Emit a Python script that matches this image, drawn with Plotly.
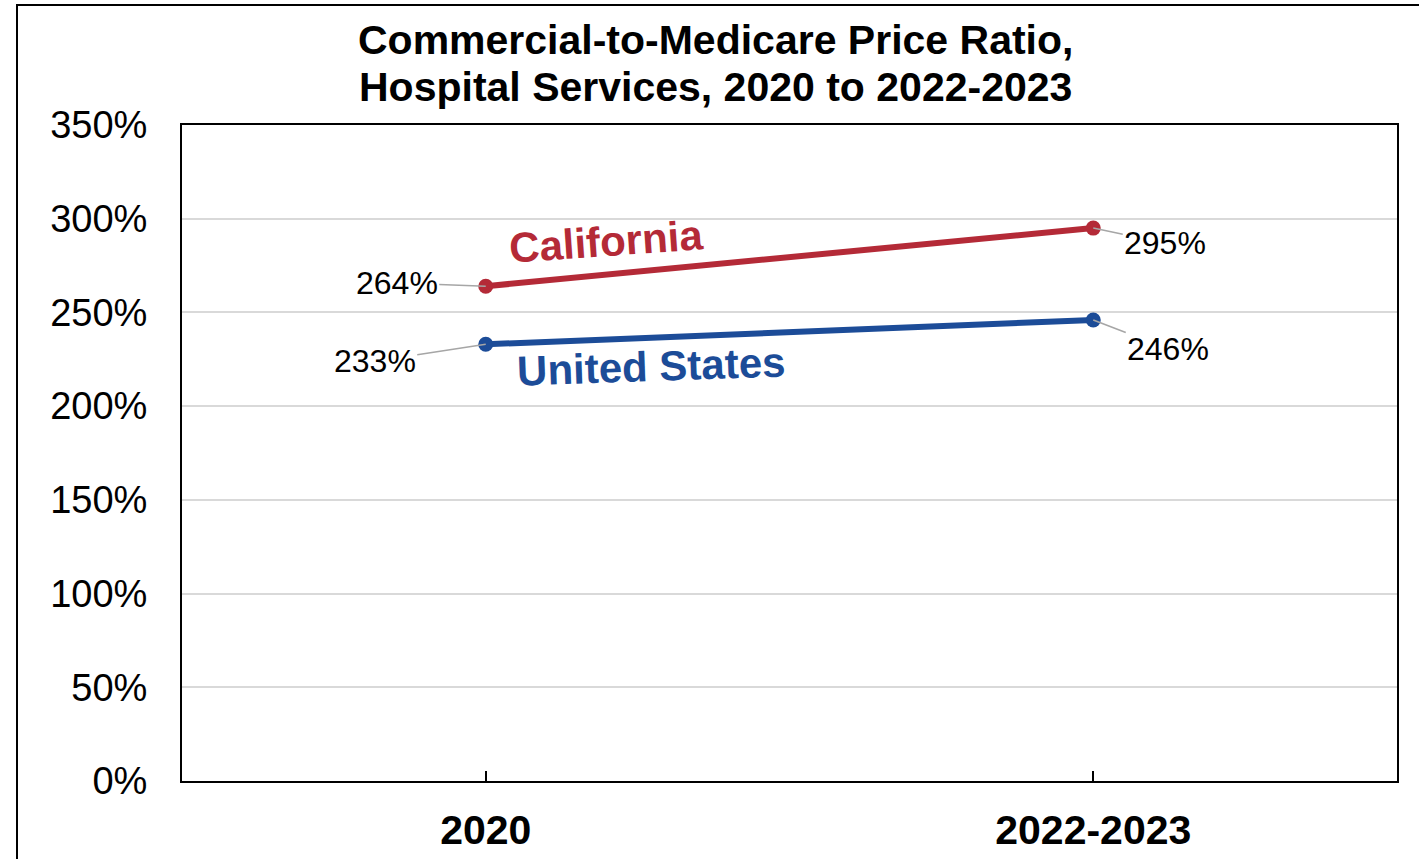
import plotly.graph_objects as go

categories = ["2020", "2022-2023"]
california = [2.64, 2.95]
united_states = [2.33, 2.46]
y_ticks = [0, 0.5, 1.0, 1.5, 2.0, 2.5, 3.0, 3.5]
title_lines = ["Commercial-to-Medicare Price Ratio,", "Hospital Services, 2020 to 2022-2023"]

RED = "#B42A37"
BLUE = "#1C4C98"
FONT = "Liberation Sans, Arial, sans-serif"

fig = go.Figure()
fig.add_trace(go.Scatter(x=[0, 1], y=california, mode="lines+markers",
                         line=dict(color=RED, width=6), marker=dict(size=15, color=RED),
                         name="California", hoverinfo="skip"))
fig.add_trace(go.Scatter(x=[0, 1], y=united_states, mode="lines+markers",
                         line=dict(color=BLUE, width=6), marker=dict(size=15, color=BLUE),
                         name="United States", hoverinfo="skip"))

# data labels with leader lines
label_offsets = {
    ("ca", 0): (-89, -3), ("ca", 1): (72, 15),
    ("us", 0): (-111, 17), ("us", 1): (75, 29),
}
for key, vals in (("ca", california), ("us", united_states)):
    for i, v in enumerate(vals):
        ax, ay = label_offsets[(key, i)]
        fig.add_annotation(x=i, y=v, text=f"{round(v*100)}%", showarrow=True,
                           arrowhead=0, arrowwidth=1.5, arrowcolor="#A6A6A6",
                           ax=ax, ay=ay, font=dict(family=FONT, size=32, color="black"),
                           standoff=0)

# series name labels
fig.add_annotation(x=0.1985, y=2.876, text="<b>California</b>", showarrow=False,
                   textangle=-4, font=dict(family=FONT, size=42, color=RED))
fig.add_annotation(x=0.2727, y=2.214, text="<b>United States</b>", showarrow=False,
                   textangle=-2, font=dict(family=FONT, size=42, color=BLUE))

L, R, T, B = 182, 1397, 125, 781
W, H = R - L, B - T

# title, two lines
for line, yc in zip(title_lines, (40, 87)):
    fig.add_annotation(xref="paper", yref="paper", x=(715 - L) / W, y=(B - yc) / H,
                       xanchor="center", yanchor="middle", showarrow=False,
                       text=f"<b>{line}</b>", font=dict(family=FONT, size=41, color="black"))

# outer border
fig.add_shape(type="rect", xref="paper", yref="paper",
              x0=(17 - L) / W, x1=(1430 - L) / W, y0=(B - 875) / H, y1=(B - 5) / H,
              line=dict(color="black", width=2), fillcolor="rgba(0,0,0,0)", layer="below")

fig.update_layout(
    width=1419, height=859,
    margin=dict(l=L, r=1419 - R, t=T, b=859 - B, autoexpand=False),
    paper_bgcolor="white", plot_bgcolor="white",
    showlegend=False,
    font=dict(family=FONT, color="black"),
)
fig.update_xaxes(range=[-0.5, 1.5], tickvals=[0, 1], ticktext=[f"<b>{c}</b>" for c in categories],
                 ticks="inside", ticklen=10, tickwidth=2, tickcolor="black",
                 showline=True, linecolor="black", linewidth=2, mirror=True,
                 showgrid=False, zeroline=False, ticklabelstandoff=12, automargin=False,
                 tickfont=dict(family=FONT, size=41, color="black"))
fig.update_yaxes(range=[0, 3.5], tickvals=y_ticks, tickformat=".0%",
                 showline=True, linecolor="black", linewidth=2, mirror=True,
                 showgrid=True, gridcolor="#D9D9D9", gridwidth=2, zeroline=False,
                 ticks="", ticklabelstandoff=25, automargin=False,
                 tickfont=dict(family=FONT, size=38, color="black"))

fig.write_html("out.html", config={"displayModeBar": False},
               post_script="document.body.style.margin='0';document.body.style.overflow='hidden';")
